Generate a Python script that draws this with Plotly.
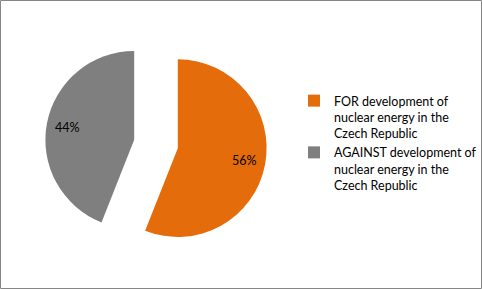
import numpy as np
import plotly.graph_objects as go

labels = ["FOR development of<br>nuclear energy in the<br>Czech Republic",
          "AGAINST development of<br>nuclear energy in the<br>Czech Republic"]
values = [56, 44]
colors = ["#E46C0A", "#7F7F7F"]
pulls = [0.25, 0.25]

W, H = 482, 289
dom_x = [45 / W, 267 / W]
dom_y = [1 - 255 / H, 1 - 33 / H]
FONT = "Lato"

fig = go.Figure(go.Pie(
    labels=labels,
    values=values,
    sort=False,
    direction="clockwise",
    rotation=0,
    pull=pulls,
    marker=dict(colors=colors, line=dict(width=0)),
    textinfo="none",
    domain=dict(x=dom_x, y=dom_y),
    hoverinfo="label+percent",
))

# percentage labels placed along each slice's bisector (derived from the data)
vals = np.array(values, dtype=float)
frac = vals / vals.sum()
cx = (dom_x[0] + dom_x[1]) / 2 * W
cy = (1 - (dom_y[0] + dom_y[1]) / 2) * H
r = min((dom_x[1] - dom_x[0]) * W, (dom_y[1] - dom_y[0]) * H) / (2 + 2 * max(pulls))
start = 0.0
annotations = []
for f, p in zip(frac, pulls):
    mid = (start + f / 2) * 2 * np.pi
    start += f
    dist = (p + 0.77) * r
    px = cx + dist * np.sin(mid)
    py = cy - dist * np.cos(mid)
    annotations.append(dict(
        x=px / W, y=1 - py / H, xref="paper", yref="paper",
        text=f"{round(f * 100):.0f}%", showarrow=False,
        font=dict(family=FONT, size=12.5, color="#000000"),
        xanchor="center", yanchor="middle",
    ))

fig.update_layout(
    width=W, height=H,
    margin=dict(l=0, r=0, t=0, b=0),
    paper_bgcolor="white",
    plot_bgcolor="white",
    font=dict(family=FONT, size=12.5, color="#000000"),
    showlegend=True,
    legend=dict(
        x=294 / W, y=1 - 86 / H, xanchor="left", yanchor="top",
        valign="top",
        font=dict(family=FONT, size=12.5, color="#000000"),
        bgcolor="rgba(0,0,0,0)",
    ),
    annotations=annotations,
    shapes=[dict(type="rect", xref="paper", yref="paper",
                 x0=0.5 / W, x1=1 - 0.5 / W, y0=0.5 / H, y1=1 - 0.5 / H,
                 line=dict(color="#868686", width=1))],
)

fig.write_html("out.html")
